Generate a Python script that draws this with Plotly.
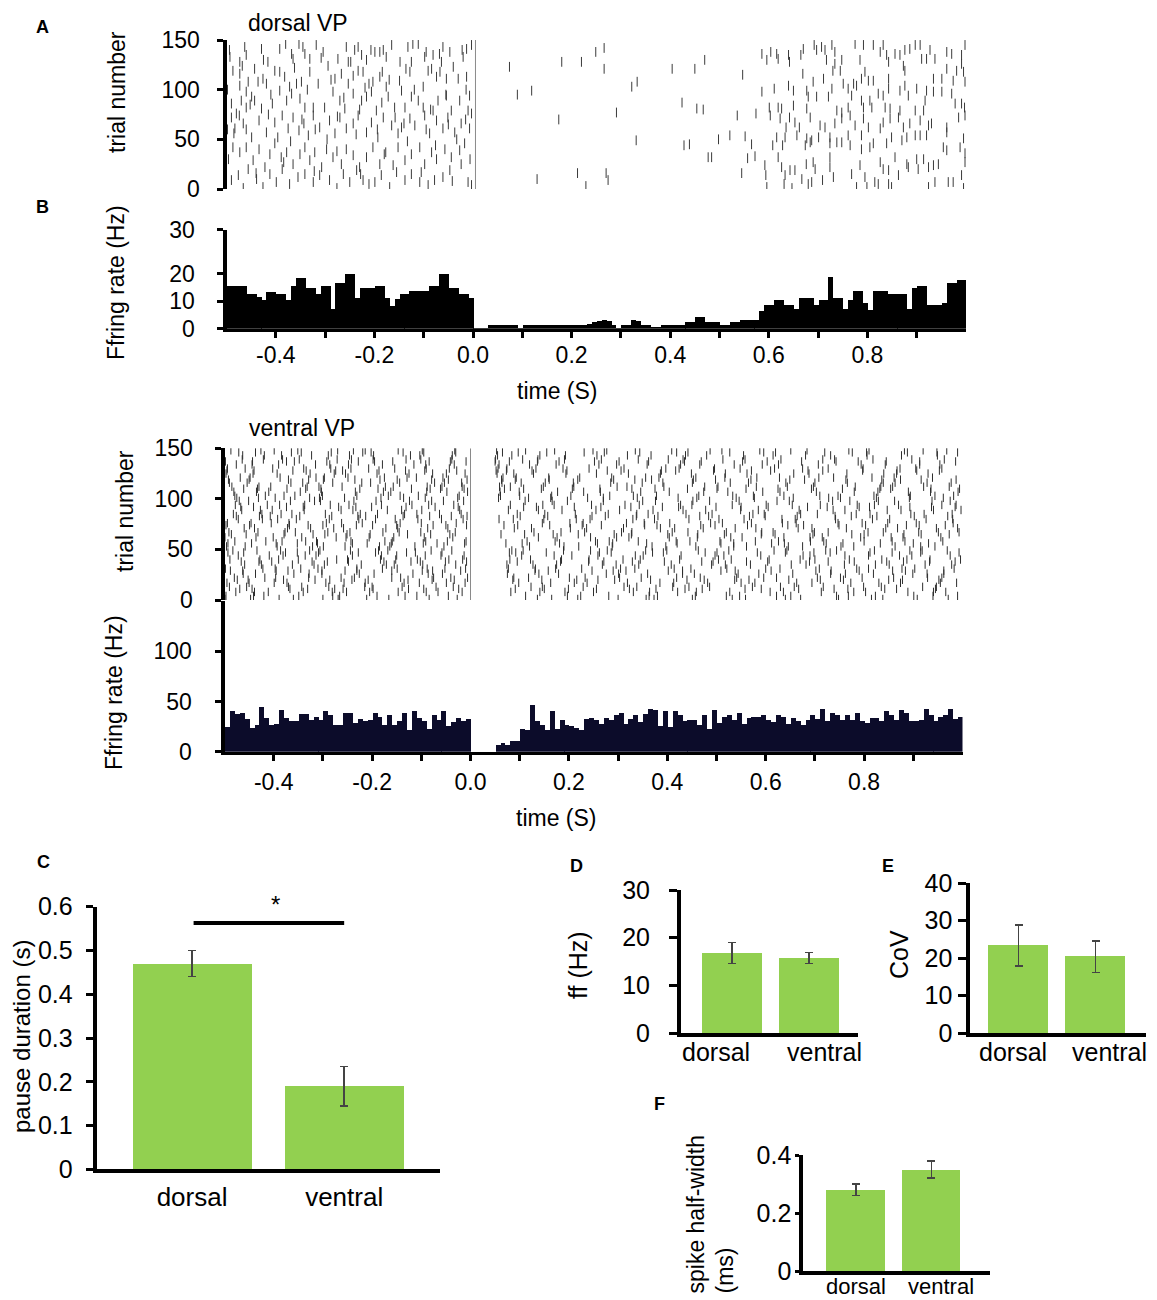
import numpy as np
import plotly.graph_objects as go

W, H = 1157, 1300
OFF = 8          # the page puts the figure 8 px in from the top-left corner
FONT = "Liberation Sans, Arial, sans-serif"

# ---------------- data ----------------
bin_ms = np.arange(-500, 1000, 10)          # 10 ms PSTH bins, -0.5 .. 1.0 s

dorsal_rate_pre = [15.7, 15.7, 15.7, 15.7, 12.7, 12.7, 11.7, 10.7, 13.5, 13.5,
                   12.7, 12.7, 10.5, 15.7, 18.7, 18.7, 14.8, 14.8, 12.7, 15.7,
                   15.7, 7.4, 16.8, 16.8, 19.9, 19.9, 11.5, 14.8, 14.8, 14.8,
                   15.7, 15.7, 11.5, 8.3, 11.1, 12.7, 12.7, 13.8, 13.8, 13.8,
                   13.8, 15.7, 15.7, 19.9, 19.9, 14.8, 14.8, 12.7, 12.7, 11.5]
dorsal_rate_post = [0.6, 0.6, 0.6, 1.5, 1.5, 1.5, 1.5, 1.5, 1.5, 0.6,
                    1.5, 1.5, 1.5, 1.5, 1.5, 1.5, 1.5, 1.5, 1.5, 1.5,
                    1.5, 1.5, 1.5, 2.0, 2.6, 3.0, 3.5, 3.0, 1.5, 0.5,
                    1.5, 1.5, 3.5, 3.0, 1.5, 1.5, 0.7, 0.7, 1.5, 1.5,
                    1.5, 1.5, 1.5, 2.6, 2.6, 4.6, 4.6, 2.6, 2.6, 2.6,
                    1.5, 1.5, 2.6, 2.6, 3.5, 3.5, 3.5, 3.5, 6.5, 8.7,
                    8.7, 10.7, 10.7, 8.7, 8.7, 7.4, 11.5, 11.5, 11.5, 8.7,
                    10.7, 10.7, 18.8, 11.5, 11.5, 7.4, 10.7, 13.8, 13.8, 9.5,
                    6.8, 13.8, 13.8, 13.8, 12.7, 12.7, 12.7, 12.7, 7.4, 14.8,
                    15.7, 15.7, 8.7, 8.7, 8.7, 9.5, 16.8, 16.8, 17.8, 17.8]

ventral_rate_pre = [25, 40.7, 38, 39, 33, 24, 27, 44, 34, 27,
                    28, 42, 34, 31, 31, 38, 38, 32, 35, 32,
                    41, 37, 27, 27, 39, 39, 29, 33, 31, 32,
                    39, 35, 27, 37, 27, 31, 39, 22, 41, 34,
                    31, 23, 37, 32, 41, 26, 30, 34, 31, 33]
ventral_rate_pause = [0, 0, 0, 0, 0, 7, 9, 7, 11, 11, 23, 22, 46, 31]
ventral_rate_post = [27, 22, 41, 23, 32, 27, 26, 24, 22, 33,
                     34, 32, 28, 34, 32, 37, 39, 28, 33, 37,
                     30, 38, 43, 42, 26, 41, 25, 41, 37, 31,
                     32, 32, 27, 37, 23, 42, 29, 35, 37, 32,
                     39, 28, 34, 35, 35, 37, 32, 30, 37, 35,
                     28, 34, 31, 27, 32, 37, 33, 43, 31, 39,
                     37, 32, 37, 32, 39, 31, 29, 34, 34, 31,
                     41, 37, 32, 42, 39, 31, 31, 32, 43, 37,
                     31, 35, 37, 43, 33, 35]

# dorsal raster: (time ms, trial)
dorsal_ticks_pre = [
    (-493, 133), (-473, 128), (-463, 143), (-460, 135), (-429, 141), (-416, 128), (-392, 141), (-380, 146),
    (-368, 136), (-365, 131), (-353, 146), (-345, 143), (-341, 136), (-331, 131), (-318, 145), (-304, 138),
    (-274, 131), (-257, 143), (-253, 128), (-240, 140), (-233, 143), (-226, 135), (-216, 130), (-199, 138),
    (-189, 138), (-182, 140), (-176, 133), (-165, 145), (-132, 143), (-122, 146), (-111, 146), (-125, 128),
    (-98, 133), (-81, 135), (-68, 136), (-61, 143), (-47, 138), (-20, 133), (-13, 141), (-3, 145),
    (-487, 119), (-473, 116), (-456, 108), (-443, 121), (-436, 108), (-426, 111), (-419, 106), (-402, 119),
    (-392, 118), (-382, 113), (-372, 103), (-358, 106), (-348, 108), (-331, 118), (-314, 106), (-294, 124),
    (-280, 111), (-267, 116), (-253, 106), (-243, 114), (-233, 119), (-223, 118), (-211, 106), (-203, 108),
    (-189, 113), (-184, 118), (-176, 103), (-149, 109), (-136, 121), (-128, 118), (-101, 103), (-91, 119),
    (-84, 121), (-74, 113), (-67, 118), (-54, 111), (-40, 123), (-30, 111), (-13, 113), (-473, 104),
    (-490, 86), (-480, 76), (-470, 89), (-460, 82), (-449, 93), (-443, 89), (-429, 81), (-407, 86),
    (-392, 99), (-378, 89), (-368, 96), (-351, 91), (-341, 82), (-324, 82), (-301, 82), (-284, 98),
    (-270, 89), (-260, 81), (-243, 96), (-226, 89), (-216, 93), (-206, 98), (-196, 79), (-172, 93),
    (-159, 82), (-145, 99), (-138, 82), (-125, 93), (-111, 89), (-101, 82), (-81, 79), (-71, 89),
    (-54, 94), (-44, 79), (-27, 89), (-10, 79), (-7, 94), (-460, 98),
    (-490, 72), (-483, 61), (-474, 74), (-466, 66), (-449, 52), (-434, 69), (-419, 57), (-402, 67),
    (-387, 74), (-375, 61), (-365, 72), (-353, 59), (-343, 66), (-334, 54), (-324, 74), (-311, 62),
    (-291, 69), (-280, 56), (-270, 72), (-257, 61), (-243, 66), (-233, 74), (-216, 57), (-206, 67),
    (-193, 52), (-182, 72), (-165, 64), (-152, 56), (-145, 62), (-128, 71), (-118, 64), (-98, 74),
    (-88, 56), (-74, 69), (-61, 61), (-51, 72), (-37, 57), (-24, 66), (-7, 61), (-3, 76),
    (-487, 42), (-473, 37), (-460, 42), (-446, 29), (-434, 40), (-422, 22), (-412, 35), (-402, 46),
    (-389, 32), (-378, 37), (-365, 25), (-351, 35), (-341, 42), (-331, 29), (-321, 37), (-307, 22),
    (-297, 40), (-284, 32), (-267, 25), (-257, 40), (-243, 34), (-230, 22), (-216, 32), (-203, 42),
    (-189, 25), (-177, 37), (-162, 24), (-152, 42), (-138, 29), (-125, 35), (-108, 42), (-98, 25),
    (-84, 37), (-74, 30), (-57, 40), (-44, 32), (-27, 39), (-17, 46), (-24, 25),
    (-490, 9), (-476, 14), (-466, 1), (-456, 20), (-439, 10), (-426, 2), (-412, 15), (-399, 7),
    (-387, 20), (-372, 5), (-355, 12), (-341, 15), (-324, 7), (-311, 14), (-291, 9), (-276, 1),
    (-263, 15), (-250, 7), (-236, 19), (-223, 9), (-211, 5), (-199, 7), (-186, 14), (-169, 2),
    (-155, 17), (-138, 9), (-125, 15), (-108, 7), (-91, 4), (-78, 9), (-61, 12), (-47, 19),
    (-10, 7), (-3, 4),
    (-485, 56), (-468, 124), (-452, 85), (-440, 16), (-425, 130), (-410, 95), (-396, 52), (-384, 27),
    (-362, 122), (-347, 70), (-336, 100), (-322, 18), (-308, 132), (-296, 50), (-288, 110), (-276, 38),
    (-262, 92), (-248, 128), (-237, 55), (-228, 15), (-219, 102), (-207, 140), (-194, 60), (-180, 35),
    (-170, 110), (-158, 72), (-148, 128), (-133, 48), (-119, 100), (-105, 17), (-95, 138), (-86, 80),
    (-76, 44), (-64, 128), (-55, 95), (-42, 8), (-33, 50), (-22, 140), (-14, 100), (-6, 30),
    (-498, 100), (-498, 60), (-496, 30), (-494, 140), (-460, 60), (-415, 75), (-370, 48), (-320, 60),
    (-275, 73), (-230, 80), (-185, 87), (-140, 66), (-95, 60), (-50, 65), (-15, 70),
]
dorsal_ticks_pause = [
    (74, 123), (90, 95), (119, 99), (130, 10), (174, 70), (180, 128), (220, 128), (212, 16),
    (229, 3), (249, 138), (266, 142), (266, 121), (270, 16), (274, 9), (291, 77), (322, 103),
    (333, 108), (331, 49), (404, 121), (424, 87), (428, 44), (439, 45), (450, 121), (454, 81),
    (467, 80), (470, 130), (477, 32), (484, 32), (498, 50), (521, 54), (536, 74), (545, 16),
    (547, 115), (552, 53), (557, 31), (565, 45), (572, 33), (574, 76),
]
dorsal_ticks_post = [
    (586, 136), (596, 130), (604, 138), (616, 136), (619, 131), (640, 135), (642, 128), (665, 135),
    (670, 141), (692, 145), (697, 140), (707, 143), (714, 140), (728, 145), (734, 138), (775, 146),
    (792, 145), (812, 145), (826, 138), (832, 145), (839, 135), (856, 136), (866, 135), (876, 140),
    (886, 141), (897, 145), (907, 145), (910, 131), (920, 131), (927, 140), (937, 131), (961, 138),
    (971, 136), (991, 135), (998, 145),
    (669, 116), (717, 130), (730, 119), (734, 126), (745, 119), (748, 130), (785, 130), (795, 118),
    (788, 111), (802, 109), (812, 109), (843, 111), (843, 128), (873, 124), (876, 119), (934, 111),
    (951, 111), (961, 121), (974, 109), (981, 119), (991, 126), (998, 108), (995, 118), (690, 108),
    (711, 111), (751, 106), (772, 106),
    (586, 98), (611, 101), (640, 104), (650, 99), (677, 99), (680, 93), (697, 93), (728, 101),
    (761, 101), (768, 94), (778, 104), (788, 89), (805, 89), (822, 96), (832, 94), (843, 101),
    (866, 99), (876, 104), (883, 94), (900, 101), (920, 99), (917, 89), (934, 98), (951, 98),
    (971, 96), (978, 86), (991, 86), (601, 82), (619, 82), (626, 81), (650, 84), (677, 81),
    (721, 93), (738, 79), (748, 77), (761, 82), (792, 82), (809, 82), (836, 82), (846, 81),
    (866, 79), (897, 79), (914, 79), (997, 82),
    (603, 74), (623, 71), (635, 62), (642, 72), (653, 67), (662, 62), (684, 72), (704, 64),
    (714, 62), (734, 66), (748, 71), (765, 74), (775, 64), (792, 71), (802, 62), (832, 67),
    (846, 71), (863, 72), (873, 62), (886, 66), (907, 69), (924, 64), (930, 66), (961, 62),
    (985, 72), (998, 74), (616, 52), (633, 52), (657, 54), (677, 51), (687, 49), (701, 52),
    (724, 52), (761, 54), (788, 54), (826, 61), (849, 52), (870, 49), (880, 52), (897, 54),
    (907, 54), (920, 54), (961, 57), (995, 51),
    (608, 44), (628, 44), (674, 44), (684, 47), (724, 46), (738, 47), (748, 47), (765, 44),
    (788, 40), (805, 42), (812, 46), (839, 46), (856, 32), (880, 25), (900, 30), (914, 30),
    (934, 24), (944, 25), (954, 42), (988, 42), (998, 36), (592, 24), (619, 32), (626, 22),
    (643, 19), (653, 19), (676, 25), (690, 27), (694, 20), (724, 32), (724, 22), (785, 24),
    (826, 27), (832, 20), (843, 19), (883, 22), (903, 20), (924, 22), (961, 39), (998, 27),
    (594, 14), (596, 2), (631, 5), (633, 14), (647, 1), (667, 10), (680, 5), (687, 7),
    (709, 9), (731, 12), (768, 15), (778, 2), (795, 12), (799, 2), (815, 7), (822, 5),
    (843, 5), (849, 2), (863, 14), (924, 2), (937, 7), (964, 7), (974, 7), (991, 14), (995, 1),
]

# ventral raster: one list of spike times (ms) per trial row
ventral_row_trials = [29, 4, 44, 13, 38, 1, 22, 47, 8, 35, 17, 49, 11, 31, 20, 40, 26,
                      76, 58, 92, 53, 83, 67, 98, 62, 85, 71, 56, 94, 74, 89, 65, 80,
                      128, 107, 143, 116, 101, 137, 121, 148, 110, 130, 103, 125, 146,
                      112, 139, 119, 134]
ventral_row_ms = [
    [-488, -463, -395, -371, -302, -255, -231, -160, -98, -77, -20, 131, 158, 247, 290, 316, 402, 431, 509, 538, 611, 702, 733, 790, 858, 884, 962],
    [-497, -441, -420, -349, -280, -266, -190, -133, -109, -45, 112, 197, 224, 281, 363, 380, 457, 520, 547, 622, 651, 744, 768, 823, 901, 940, 990],
    [-472, -409, -381, -336, -314, -240, -181, -150, -92, -60, -13, 104, 170, 206, 259, 335, 351, 428, 497, 515, 590, 676, 690, 761, 809, 872, 897, 975],
    [-490, -455, -370, -343, -288, -215, -200, -139, -70, -35, 123, 146, 229, 312, 338, 411, 444, 486, 573, 630, 658, 717, 799, 835, 919, 947],
    [-466, -430, -404, -322, -291, -248, -176, -121, -102, -51, -8, 95, 183, 240, 271, 329, 394, 470, 493, 561, 604, 689, 727, 780, 846, 880, 933, 985],
    [-499, -447, -389, -360, -300, -269, -211, -166, -84, -27, 136, 165, 218, 300, 357, 373, 451, 532, 559, 640, 671, 748, 815, 838, 908, 971],
    [-480, -418, -396, -329, -263, -236, -160, -142, -75, -40, -6, 88, 118, 201, 233, 303, 347, 419, 467, 541, 596, 622, 705, 752, 796, 860, 929, 958],
    [-493, -461, -376, -352, -309, -228, -193, -130, -112, -58, 79, 92, 154, 262, 286, 370, 392, 477, 501, 583, 640, 698, 731, 812, 857, 915, 993],
    [-477, -439, -411, -340, -281, -252, -205, -147, -90, -66, -17, 82, 141, 192, 250, 331, 364, 421, 459, 527, 609, 636, 713, 779, 803, 889, 941, 966],
    [-459, -425, -362, -318, -297, -222, -171, -155, -97, -30, 74, 127, 175, 268, 296, 342, 408, 490, 518, 569, 652, 682, 760, 823, 851, 924, 978],
    [-495, -450, -399, -373, -294, -257, -214, -135, -104, -49, -11, 98, 163, 211, 237, 319, 385, 413, 482, 550, 578, 663, 694, 773, 830, 874, 955, 988],
    [-483, -434, -386, -327, -306, -244, -187, -168, -80, -38, 84, 107, 189, 244, 278, 356, 399, 463, 525, 617, 643, 722, 744, 821, 893, 918, 969],
    [-469, -444, -367, -331, -276, -259, -198, -126, -95, -24, 91, 150, 199, 256, 323, 377, 436, 471, 558, 591, 667, 739, 767, 842, 866, 945],
    [-498, -422, -397, -345, -310, -231, -179, -149, -88, -52, -10, 77, 132, 173, 226, 305, 334, 414, 448, 521, 600, 629, 709, 785, 809, 877, 903, 983],
    [-474, -452, -380, -316, -286, -241, -208, -127, -78, -33, 86, 145, 216, 259, 293, 366, 440, 475, 537, 566, 647, 711, 758, 850, 878, 952],
    [-489, -428, -390, -350, -272, -250, -183, -152, -108, -44, -16, 80, 122, 185, 241, 310, 345, 425, 504, 530, 607, 670, 700, 770, 836, 887, 934, 996],
    [-462, -437, -359, -328, -302, -226, -196, -117, -86, -57, 75, 139, 179, 276, 301, 360, 431, 455, 544, 586, 655, 732, 762, 819, 899, 928, 962],
    [-494, -446, -405, -369, -293, -262, -220, -143, -100, -29, 146, 202, 229, 317, 353, 405, 488, 512, 571, 634, 662, 747, 796, 848, 906, 981],
    [-479, -416, -383, -335, -313, -243, -174, -159, -91, -47, -9, 115, 172, 254, 282, 341, 418, 446, 507, 579, 626, 691, 718, 800, 857, 883, 960],
    [-467, -441, -374, -340, -268, -233, -201, -131, -72, -25, 108, 134, 211, 265, 326, 390, 423, 499, 550, 605, 685, 725, 790, 811, 893, 937, 985],
    [-496, -458, -393, -321, -299, -255, -185, -164, -113, -54, 120, 190, 220, 288, 369, 397, 458, 535, 561, 646, 675, 753, 779, 863, 915, 944],
    [-476, -429, -407, -347, -282, -229, -213, -137, -83, -39, -7, 101, 157, 247, 274, 337, 381, 466, 484, 567, 599, 664, 741, 774, 826, 902, 970],
    [-491, -432, -377, -356, -290, -245, -178, -145, -101, -31, 129, 184, 232, 307, 328, 410, 442, 520, 592, 615, 699, 727, 808, 839, 911, 951, 993],
    [-470, -451, -366, -317, -305, -237, -192, -124, -79, -55, -14, 111, 166, 197, 270, 350, 376, 452, 486, 546, 623, 648, 736, 771, 829, 862, 938, 975],
    [-499, -436, -401, -343, -273, -253, -206, -156, -94, -36, 138, 176, 244, 297, 322, 404, 461, 529, 552, 637, 690, 715, 793, 855, 879, 956],
    [-482, -424, -385, -363, -295, -224, -189, -134, -109, -63, -19, 95, 151, 213, 280, 338, 361, 438, 491, 574, 597, 671, 705, 784, 812, 895, 922, 979],
    [-460, -439, -372, -325, -278, -258, -172, -148, -87, -46, 89, 124, 203, 236, 311, 386, 415, 473, 538, 580, 666, 694, 764, 844, 868, 947, 990],
    [-493, -445, -395, -352, -311, -240, -210, -161, -96, -68, -12, 72, 105, 181, 258, 289, 358, 420, 509, 535, 612, 638, 723, 757, 833, 900, 931],
    [-478, -413, -388, -337, -285, -247, -181, -119, -85, -34, 81, 147, 170, 246, 314, 343, 427, 450, 532, 601, 654, 711, 786, 821, 870, 958, 987],
    [-497, -449, -368, -330, -300, -232, -199, -150, -76, -50, -8, 68, 96, 161, 227, 266, 354, 379, 468, 497, 563, 645, 677, 749, 803, 886, 912, 965],
    [-465, -427, -403, -338, -263, -239, -169, -140, -99, -22, 77, 138, 186, 255, 303, 371, 432, 478, 549, 585, 668, 737, 761, 847, 875, 941, 997],
    [-486, -456, -379, -320, -296, -251, -204, -128, -81, -42, 62, 110, 168, 219, 292, 327, 401, 462, 516, 591, 619, 696, 775, 800, 881, 916, 973],
    [-472, -423, -392, -354, -287, -227, -193, -153, -107, -59, -15, 58, 87, 149, 215, 243, 330, 374, 444, 505, 556, 633, 660, 742, 817, 852, 926, 980],
    [-495, -440, -361, -334, -274, -260, -186, -132, -93, -28, 52, 73, 125, 196, 278, 306, 388, 417, 494, 571, 610, 686, 716, 797, 867, 907, 953],
    [-481, -435, -410, -346, -303, -234, -177, -162, -89, -48, -6, 60, 99, 177, 230, 264, 346, 404, 474, 523, 594, 629, 703, 780, 828, 890, 935, 991],
    [-463, -419, -384, -323, -289, -246, -197, -122, -103, -37, 55, 84, 141, 193, 257, 319, 367, 437, 480, 555, 615, 681, 732, 806, 876, 949],
    [-490, -454, -365, -341, -280, -221, -203, -144, -73, -53, -18, 64, 103, 152, 209, 285, 349, 391, 451, 528, 565, 641, 700, 766, 839, 863, 928, 977],
    [-475, -431, -397, -327, -307, -256, -182, -136, -92, -26, 57, 118, 163, 238, 270, 339, 422, 460, 540, 577, 656, 728, 752, 825, 892, 961],
    [-498, -443, -374, -358, -292, -228, -195, -158, -84, -41, -9, 50, 79, 136, 180, 252, 302, 362, 435, 469, 553, 603, 673, 743, 788, 845, 913, 986],
    [-468, -448, -387, -314, -297, -249, -175, -129, -110, -56, 66, 93, 159, 222, 287, 356, 383, 458, 517, 582, 628, 708, 738, 816, 861, 939],
    [-487, -426, -399, -351, -270, -238, -214, -147, -98, -32, 53, 112, 171, 249, 277, 335, 409, 487, 511, 588, 651, 684, 769, 810, 882, 920, 968],
    [-461, -433, -373, -335, -304, -225, -188, -120, -82, -61, -13, 69, 108, 144, 207, 263, 328, 375, 441, 501, 560, 625, 693, 756, 832, 854, 936, 994],
    [-494, -458, -402, -339, -284, -243, -207, -154, -90, -43, 56, 74, 133, 188, 241, 312, 397, 424, 496, 548, 618, 675, 727, 798, 873, 905, 958],
    [-479, -417, -379, -357, -301, -231, -167, -143, -106, -23, 61, 100, 165, 204, 283, 331, 378, 464, 533, 575, 637, 710, 747, 820, 894, 944, 982],
    [-497, -442, -393, -326, -277, -254, -190, -125, -77, -49, -11, 54, 88, 128, 194, 256, 321, 386, 449, 518, 562, 657, 688, 765, 840, 866, 930],
    [-471, -437, -364, -344, -283, -219, -202, -137, -95, -30, 65, 97, 155, 231, 272, 344, 419, 442, 527, 596, 620, 720, 776, 805, 888, 948, 990],
    [-485, -430, -406, -332, -308, -261, -173, -157, -88, -58, -17, 59, 81, 148, 210, 298, 318, 393, 476, 503, 581, 644, 697, 782, 834, 858, 921, 973],
    [-464, -421, -382, -348, -271, -242, -198, -131, -101, -38, 51, 106, 137, 191, 266, 341, 402, 432, 513, 558, 631, 716, 740, 818, 897, 963],
    [-492, -450, -370, -329, -299, -235, -184, -149, -79, -45, -7, 63, 91, 160, 218, 291, 334, 368, 453, 498, 570, 649, 679, 763, 836, 874, 916, 987],
    [-476, -444, -390, -315, -286, -248, -179, -115, -91, -33, 58, 120, 174, 261, 297, 359, 427, 466, 536, 593, 626, 707, 794, 843, 913, 954],
]

groups = ["dorsal", "ventral"]
pause_mean = [0.47, 0.19]
pause_err = [0.03, 0.045]
ff_mean = [16.8, 15.7]
ff_err = [2.2, 1.15]
cov_mean = [23.4, 20.4]
cov_err = [5.5, 4.2]
halfwidth_mean = [0.28, 0.35]
halfwidth_err = [0.02, 0.03]

time_tickvals = [-0.4, -0.3, -0.2, -0.1, 0.0, 0.1, 0.2, 0.3, 0.4, 0.5, 0.6, 0.7, 0.8, 0.9]
time_ticktext = ["-0.4", "", "-0.2", "", "0.0", "", "0.2", "", "0.4", "", "0.6", "", "0.8", ""]

GREEN = "#92d050"


def px(x):
    return (x - OFF) / W


def py(y):
    return 1 - (y - OFF) / H


fig = go.Figure()

# ---------------- rasters ----------------
dorsal_all = dorsal_ticks_pre + dorsal_ticks_pause + dorsal_ticks_post
fig.add_trace(go.Scatter(
    x=[t / 1000 for t, _ in dorsal_all], y=[tr for _, tr in dorsal_all],
    mode="markers", xaxis="x", yaxis="y",
    marker=dict(symbol="line-ns", size=7, line=dict(width=1, color="#3a3a3a")),
))

vx, vy = [], []
for trial, times in zip(ventral_row_trials, ventral_row_ms):
    for t in times:
        vx.append(t / 1000)
        vy.append(trial)
fig.add_trace(go.Scatter(
    x=vx, y=vy, mode="markers", xaxis="x3", yaxis="y3",
    marker=dict(symbol="line-ns", size=6, line=dict(width=1, color="#2e2e2e")),
))

# ---------------- PSTHs ----------------
centers = (bin_ms + 5) / 1000
fig.add_trace(go.Bar(
    x=centers, y=dorsal_rate_pre + dorsal_rate_post, width=0.0101,
    marker=dict(color="black", line=dict(width=0)), xaxis="x2", yaxis="y2",
))
fig.add_trace(go.Bar(
    x=centers, y=ventral_rate_pre + ventral_rate_pause + ventral_rate_post, width=0.0101,
    marker=dict(color="#0c0c2a", line=dict(width=0)), xaxis="x4", yaxis="y4",
))

# ---------------- bar panels ----------------
for means, errs, ax in [(pause_mean, pause_err, "5"), (ff_mean, ff_err, "6"),
                        (cov_mean, cov_err, "7"), (halfwidth_mean, halfwidth_err, "8")]:
    fig.add_trace(go.Bar(
        x=groups, y=means, width=0.78,
        marker=dict(color=GREEN, line=dict(width=0)),
        error_y=dict(type="data", array=errs, color="#444444", thickness=1.5, width=4),
        xaxis="x" + ax, yaxis="y" + ax,
    ))

# ---------------- axes ----------------
yline = dict(showline=True, linecolor="black", linewidth=4, ticks="outside", ticklen=6,
             tickwidth=3, tickcolor="black", showgrid=False, zeroline=False, automargin=False,
             tickfont=dict(size=23, family=FONT, color="black"))
hidden_x = dict(showline=False, showticklabels=False, ticks="", showgrid=False,
                zeroline=False, automargin=False)
time_x = dict(showline=True, linecolor="black", linewidth=3, ticks="outside", ticklen=6,
              tickwidth=3, tickcolor="black", showgrid=False, zeroline=False, automargin=False,
              tickvals=time_tickvals, ticktext=time_ticktext,
              tickfont=dict(size=23, family=FONT, color="black"))
cat_x = dict(showline=True, linecolor="black", linewidth=4, ticks="", showgrid=False,
             zeroline=False, automargin=False, tickfont=dict(size=25, family=FONT, color="black"))

layout = dict(
    template="none",
    width=W, height=H, margin=dict(l=0, r=0, t=0, b=0, autoexpand=False),
    paper_bgcolor="white", plot_bgcolor="white", showlegend=False, bargap=0,
    font=dict(family=FONT, color="black"),
    # dorsal raster
    xaxis=dict(hidden_x, domain=[px(226.5), px(966)], range=[-0.5, 1.0], anchor="y"),
    yaxis=dict(yline, domain=[py(189), py(40)], range=[0, 150], anchor="x",
               tickvals=[0, 50, 100, 150], ticklabelstandoff=12),
    # dorsal PSTH
    xaxis2=dict(time_x, domain=[px(226.5), px(966)], range=[-0.5, 1.0], anchor="y2",
                ticklabelstandoff=-2),
    yaxis2=dict(yline, domain=[py(328.7), py(229.5)], range=[0, 36], anchor="x2",
                tickvals=[0, 10, 20, 36], ticktext=["0", "10", "20", "30"], ticklabelstandoff=17),
    # ventral raster
    xaxis3=dict(hidden_x, domain=[px(224.5), px(962.5)], range=[-0.5, 1.0], anchor="y3"),
    yaxis3=dict(yline, domain=[py(600), py(448.3)], range=[0, 150], anchor="x3",
                tickvals=[0, 50, 100, 150], ticklabelstandoff=17),
    # ventral PSTH
    xaxis4=dict(time_x, domain=[px(224.5), px(962.5)], range=[-0.5, 1.0], anchor="y4",
                ticklabelstandoff=2),
    yaxis4=dict(yline, domain=[py(751.7), py(601)], range=[0, 150], anchor="x4",
                tickvals=[0, 50, 100], ticklabelstandoff=18),
    # C pause duration
    xaxis5=dict(cat_x, domain=[px(96.7), px(440)], range=[-0.627, 1.63], anchor="y5",
                ticklabelstandoff=1, tickfont=dict(size=26, family=FONT, color="black")),
    yaxis5=dict(yline, domain=[py(1169.3), py(906.7)], range=[0, 0.6], anchor="x5",
                tickvals=[0, 0.1, 0.2, 0.3, 0.4, 0.5, 0.6],
                ticktext=["0", "0.1", "0.2", "0.3", "0.4", "0.5", "0.6"],
                ticklen=7, ticklabelstandoff=8, tickfont=dict(size=25, family=FONT, color="black")),
    # D firing rate
    xaxis6=dict(cat_x, domain=[px(681), px(858)], range=[-0.661, 1.64], anchor="y6",
                showticklabels=False),
    yaxis6=dict(yline, domain=[py(1033), py(890)], range=[0, 30], anchor="x6",
                tickvals=[0, 10, 20, 30], ticklen=8, ticklabelstandoff=14,
                tickfont=dict(size=25, family=FONT, color="black")),
    # E CoV
    xaxis7=dict(cat_x, domain=[px(970.3), px(1146)], range=[-0.63, 1.657], anchor="y7",
                showticklabels=False),
    yaxis7=dict(yline, domain=[py(1033), py(883.3)], range=[0, 40], anchor="x7",
                tickvals=[0, 10, 20, 30, 40], ticklen=8, ticklabelstandoff=1,
                tickfont=dict(size=25, family=FONT, color="black")),
    # F spike half-width
    xaxis8=dict(cat_x, domain=[px(803.3), px(990)], range=[-0.70, 1.78], anchor="y8",
                showticklabels=False),
    yaxis8=dict(yline, domain=[py(1271), py(1155)], range=[0, 0.4], anchor="x8",
                tickvals=[0, 0.2, 0.4], ticktext=["0", "0.2", "0.4"], ticklen=4,
                ticklabelstandoff=-1, tickfont=dict(size=25, family=FONT, color="black")),
)
fig.update_layout(**layout)

# stimulus line at t = 0 and significance bar
fig.add_shape(type="line", xref="x", yref="y", x0=0.005, x1=0.005, y0=0, y1=150,
              line=dict(color="#8a8a8a", width=1))
fig.add_shape(type="line", xref="x3", yref="y3", x0=0, x1=0, y0=0, y1=150,
              line=dict(color="#8a8a8a", width=1))
fig.add_shape(type="line", xref="x5", yref="y5", x0=0.01, x1=1.0, y0=0.563, y1=0.563,
              line=dict(color="black", width=4))


def label(text, x, y, size=23, angle=0, **kw):
    opts = dict(xanchor="center", yanchor="middle")
    opts.update(kw)
    fig.add_annotation(text=text, x=px(x), y=py(y), xref="paper", yref="paper",
                       showarrow=False, textangle=angle,
                       font=dict(size=size, family=FONT, color="black"), **opts)


label("<b>A</b>", 42, 27, size=18)
label("<b>B</b>", 42, 207, size=18)
label("<b>C</b>", 43, 862, size=18)
label("<b>D</b>", 576, 866, size=18)
label("<b>E</b>", 888, 866, size=18)
label("<b>F</b>", 660, 1104, size=18)

label("dorsal VP", 298, 23)
label("ventral VP", 302, 428)
label("trial number", 117, 92, angle=-90)
label("Ffring rate (Hz)", 116, 283, angle=-90)
label("time (S)", 557, 391)
label("trial number", 125, 511, angle=-90)
label("Ffring rate (Hz)", 114, 693, angle=-90)
label("time (S)", 556, 818)

label("*", 275, 904, size=24)
label("pause duration (s)", 21, 1037, size=24, angle=-90)
label("ff (Hz)", 578, 965, size=25, angle=-90)
label("CoV", 899, 955, size=25, angle=-90)
label("spike half-width<br>(ms)", 710, 1296, size=23, angle=-90, yanchor="bottom", align="left")

# category labels under the small bar panels (spread wider than the bars, as in the figure)
for xa, ya, xs, fs, sh in [("x6", "y6", [-0.2, 1.2], 25, -3), ("x7", "y7", [-0.08, 1.18], 25, -3),
                           ("x8", "y8", [0.0, 1.13], 22, -1)]:
    for name, xv in zip(groups, xs):
        fig.add_annotation(text=name, x=xv, y=0, xref=xa, yref=ya, yanchor="top", yshift=sh,
                           showarrow=False, font=dict(size=fs, family=FONT, color="black"))

fig.write_html("out.html")
